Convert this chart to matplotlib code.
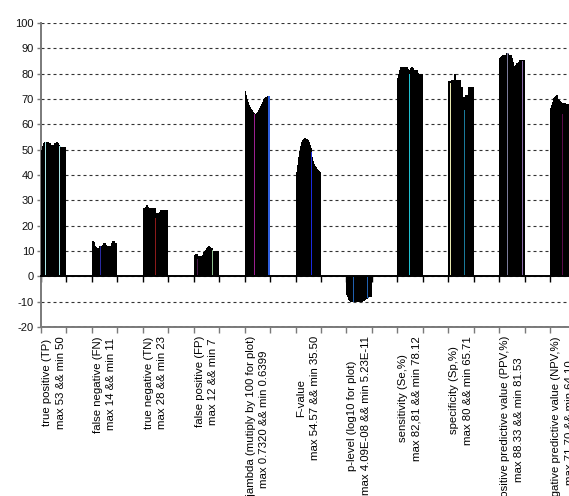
import numpy as np
import matplotlib.pyplot as plt
from matplotlib.ticker import FixedLocator, MultipleLocator

plt.rcParams['font.family'] = ['Liberation Sans', 'DejaVu Sans']
plt.rcParams['axes.unicode_minus'] = False

labels = [
    "true positive (TP)\nmax 53 && min 50",
    "false negative (FN)\nmax 14 && min 11",
    "true negative (TN)\nmax 28 && min 23",
    "false positive (FP)\nmax 12 && min 7",
    "Ljambda (mutiply by 100 for plot)\nmax 0.7320 && min 0.6399",
    "F-value\nmax 54.57 && min 35.50",
    "p-level (log10 for plot)\nmax 4.09E-08 && min 5.23E-11",
    "sensitivity (Se,%)\nmax 82,81 && min 78.12",
    "specificity (Sp,%)\nmax 80 && min 65.71",
    "positive predictive value (PPV,%)\nmax 88.33 && min 81.53",
    "negative predictive value (NPV,%)\nmax 71.70 && min 64.10",
]

tp = [50, 51.5, 52.5, 53, 53, 53, 53, 53, 52.8, 52.5, 52, 52, 51.8, 52, 52.5, 52.8,
      53, 52.5, 52, 51.5, 51, 51, 51, 51, 51, 51]
fn = [14, 13.5, 12, 11.5, 11, 11, 11, 11, 12, 12, 12, 12.5, 13, 13, 12.5, 12,
      12, 12, 12, 12, 13, 14, 14, 14, 13, 13]
tn = [27, 27, 27.5, 28, 28, 27.5, 27, 27, 27, 27, 27, 27, 27, 23, 25, 25,
      25, 25.5, 26, 26, 26, 26, 26, 26, 26, 26]
fp = [8.5, 9, 9, 9, 7, 8, 8, 8, 8, 8.5, 9.5, 10, 10.5, 11, 11.5, 12,
      11.5, 11, 11, 10.5, 10, 10, 10, 10, 10, 10]
ljambda = [0.7320, 0.715, 0.700, 0.688, 0.678, 0.670, 0.662, 0.655, 0.649, 0.644,
           0.6399, 0.642, 0.645, 0.650, 0.657, 0.665, 0.673, 0.681, 0.688, 0.694,
           0.699, 0.703, 0.706, 0.708, 0.710, 0.710]
f_value = [35.50, 41, 44, 47, 49.5, 51.5, 53, 53.8, 54.3, 54.57, 54.4, 54.2, 53.8,
           53.2, 52, 50.5, 49, 47, 45.5, 44.5, 43.5, 43, 42.5, 42, 41.5, 41]
p_level = [4.09e-08, 5.01e-09, 6.31e-10, 2.00e-10, 1.00e-10, 7.08e-11, 6.31e-11,
           5.23e-11, 5.62e-11, 6.31e-11, 6.31e-11, 6.31e-11, 7.08e-11, 7.94e-11,
           7.94e-11, 8.91e-11, 1.00e-10, 1.26e-10, 2.00e-10, 3.98e-10, 7.94e-10,
           1.58e-09, 3.16e-09, 5.01e-09, 6.31e-09, 6.31e-09]
sens = [78.12, 80, 81.5, 82.5, 82.81, 82.81, 82.81, 82.81, 82.81, 82.5, 81.8, 81.5,
        79.8, 81.5, 82.2, 82.81, 82.3, 81.5, 81.3, 81.3, 81.3, 80.3, 80, 80, 80, 80]
spec = [77, 77, 76.5, 77.5, 77.5, 77.5, 80, 77.5, 77.5, 77.5, 77.5, 77.5, 77.5,
        74.7, 74.7, 70.6, 70.6, 65.71, 71.5, 71.5, 71.5, 74.6, 74.6, 74.6, 74.6, 74.6]
ppv = [86.3, 86.5, 86.8, 87.2, 87.4, 87.4, 87.5, 88.0, 88.33, 87.8, 87.4, 87.4, 87.2,
       86, 84.5, 83, 81.53, 83.5, 84.2, 84.3, 84.5, 85.3, 85.4, 85.4, 85.0, 85.4]
npv = [66.3, 67.5, 69, 70.2, 70.8, 71.3, 71.70, 71.0, 70.0, 69.6, 69.2, 68.8, 68.3,
       64.10, 68.3, 68.3, 68.2, 68.2, 68.2, 68.2, 68.2, 68.2, 68.0, 68.0, 68.0, 68.0]

# a few bars inside each group carry their own fill colour
highlights = [
    [(4, '#a8e6e6'), (19, '#a8e6e6')],
    [(9, '#2a2aa0'), (24, '#7a5a9e')],
    [(13, '#8b1a1a')],
    [(4, '#4a1a4a'), (19, '#8fbf8f')],
    [(10, '#9b2090'), (25, '#3060e0')],
    [(0, '#6a6a9a'), (16, '#1a2ae0')],
    [(7, '#2060b0'), (22, '#2060b0')],
    [(12, '#20c0d0')],
    [(2, '#e8e8b0'), (17, '#1a7a9a')],
    [(8, '#7a7a9a'), (24, '#8a6aaa')],
    [(13, '#5a0a4a')],
]

series = [tp, fn, tn, fp, np.array(ljambda) * 100, f_value, np.log10(p_level),
          sens, spec, ppv, npv]

fig = plt.figure(figsize=(5.69, 4.96), dpi=100)
ax = fig.add_axes([41 / 569, 169 / 496, 528 / 569, 304 / 496])

n = len(tp)
step = 1.0 / (n + 1)
for k, vals in enumerate(series):
    x = 2 * k + step * np.arange(1, n + 1)
    colors = ['black'] * n
    for i, c in highlights[k]:
        colors[i] = c
    ax.bar(x, vals, width=2 * step, color=colors, linewidth=0, zorder=3)

ax.set_xlim(0, 528 / 25.45)
ax.set_ylim(-20, 100)
ax.yaxis.set_major_locator(MultipleLocator(10))
ax.grid(axis='y', color='#333333', linestyle=(0, (2.7, 2.7)), linewidth=0.8, zorder=1)

for side in ('top', 'right'):
    ax.spines[side].set_visible(False)
ax.spines['left'].set_color('#7a7a7a')
ax.spines['left'].set_linewidth(1.4)
ax.spines['bottom'].set_position(('data', 0))
ax.spines['bottom'].set_color('black')
ax.spines['bottom'].set_linewidth(1.4)
ax.spines['bottom'].set_zorder(4)

ax.tick_params(axis='y', direction='out', length=3, width=1, color='#7a7a7a',
               pad=2, labelsize=8, labelcolor='#111111')
ax.xaxis.set_major_locator(MultipleLocator(1))
ax.tick_params(axis='x', direction='out', length=4, width=1, color='black',
               labelbottom=False)

# bottom axis at -20 carries the group names
sec = ax.secondary_xaxis('bottom')
sec.spines['bottom'].set_color('#7a7a7a')
sec.spines['bottom'].set_linewidth(1.4)
sec.xaxis.set_major_locator(MultipleLocator(1))
sec.xaxis.set_major_formatter(plt.NullFormatter())
sec.set_xticks([2 * k + 0.5 for k in range(len(labels))], labels, minor=True)
sec.tick_params(axis='x', which='major', direction='out', length=4, width=1,
                color='#7a7a7a')
sec.tick_params(axis='x', which='minor', length=0, pad=6.5, labelsize=8.2)
for t in sec.get_xticklabels(minor=True):
    t.set_rotation(90)
    t.set_multialignment('center')
    t.set_linespacing(1.45)

fig.savefig('out.png', dpi=100)
